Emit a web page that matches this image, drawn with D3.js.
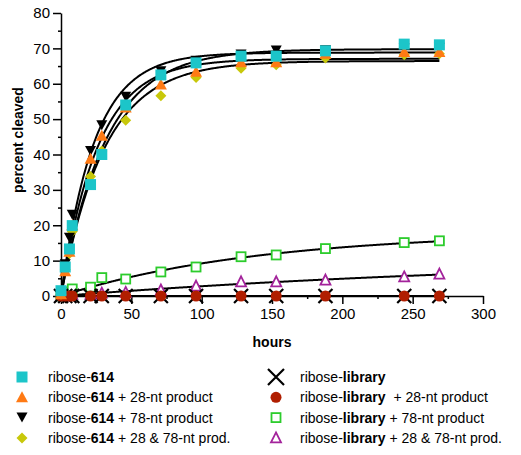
<!DOCTYPE html>
<html>
<head>
<meta charset="utf-8">
<script src="https://cdn.jsdelivr.net/npm/d3@7"></script>
<style>
    body { margin: 0; background: #fff; }
    text { font-family: 'Liberation Sans', Arial, sans-serif; }
</style>
</head>
<body>
<svg id="chart" width="521" height="455"></svg>
<script>
// sampling times (hours)
let hours = [0, 3, 6, 8, 21, 29, 46, 71, 96, 128, 153, 188, 244, 269];

// percent cleaved
let r614 = [1.5, 8.2, 13.3, 19.9, 31.5, 40, 54, 62.5, 65.9, 67.8, 67.8, 69.3, 71.2, 71];
let r614p28 = [0.5, 7, 12.5, 20, 38.8, 45.3, 53.3, 59.8, 63.4, 66.1, 66.1, 68.5, 69, 69];
let r614p78 = [0.5, 9, 16.5, 23, 41, 48.3, 56.3, 63.5, 66.5, 68.3, 69.4, 69.5, 70, 70.2];
let r614p2878 = [0.5, 7.5, 12, 18.2, 33.8, 41, 49.7, 56.6, 61.8, 64.4, 65.4, 67.3, 68.2, 68.5];
let rLib = [0, 0, 0, 0, 0, 0, 0, 0, 0, 0, 0, 0, 0, 0];
let rLibp28 = [0, 0, 0, 0, 0, 0, 0, 0, 0, 0, 0, 0, 0, 0];
let rLibp78 = [0, 0.5, 1.2, 2, 2.5, 5.2, 4.8, 6.8, 8.2, 11.1, 11.6, 13.4, 15.1, 15.6];
let rLibp2878 = [0, 0, 0.3, 0.5, 0.5, 0.8, 1, 1.7, 2.8, 4, 4, 4.5, 5.4, 6.2];

let xTicks = [0, 50, 100, 150, 200, 250, 300];
let yTicks = [0, 10, 20, 30, 40, 50, 60, 70, 80];

// legend entries: [prefix, bold part, suffix]
let labels614 = [
    ['ribose-', '614', ''],
    ['ribose-', '614', ' + 28-nt product'],
    ['ribose-', '614', ' + 78-nt product'],
    ['ribose-', '614', ' + 28 & 78-nt prod.']
];
let labelsLib = [
    ['ribose-', 'library', ''],
    ['ribose-', 'library', '  + 28-nt product'],
    ['ribose-', 'library', ' + 78-nt product'],
    ['ribose-', 'library', ' + 28 & 78-nt prod.']
];

let svg = d3.select('#chart');

let margin = { left: 61, top: 13, right: 38, bottom: 159 };
let width = 521 - margin.left - margin.right;
let height = 455 - margin.top - margin.bottom;

let x = d3.scaleLinear().domain([0, 300]).range([0, width]);
let y = d3.scaleLinear().domain([0, 80]).range([height, 0]);

let g = svg.append('g').attr('transform', 'translate(' + margin.left + ',' + margin.top + ')');

// series, drawn back to front
let series = [
    { values: rLibp2878, shape: 'triOpen', color: '#a3239b' },
    { values: rLibp78, shape: 'squareOpen', color: '#2ccc2c' },
    { values: rLib, shape: 'cross', color: '#000' },
    { values: rLibp28, shape: 'circle', color: '#b01e00' },
    { values: r614p2878, shape: 'diamond', color: '#c8c80a' },
    { values: r614p78, shape: 'triDown', color: '#000' },
    { values: r614p28, shape: 'triUp', color: '#ff7a14' },
    { values: r614, shape: 'square', color: '#1cc5c9' }
];

// one-phase association fit: y = top * (1 - exp(-k t))
function fitCurve(values) {
    let best = { err: Infinity, top: 0, k: 0.01 };
    for (let i = 0; i <= 600; i++) {
        let k = 0.0005 * Math.pow(1.012, i);
        let sfy = 0, sff = 0;
        hours.forEach((t, j) => {
            let f = 1 - Math.exp(-k * t);
            sfy += f * values[j];
            sff += f * f;
        });
        let top = sff > 0 ? sfy / sff : 0;
        let err = 0;
        hours.forEach((t, j) => {
            let d = values[j] - top * (1 - Math.exp(-k * t));
            err += d * d;
        });
        if (err < best.err) best = { err: err, top: top, k: k };
    }
    return best;
}

let line = d3.line().x(d => x(d[0])).y(d => y(d[1]));
let tMax = d3.max(hours);

// axes
let xAxis = g.append('g').attr('transform', 'translate(0,' + height + ')');
xAxis.append('g')
    .call(d3.axisBottom(x).tickValues(d3.range(25, 300, 50)).tickSize(3).tickFormat(''))
    .call(a => a.select('.domain').remove());
xAxis.append('g')
    .call(d3.axisBottom(x).tickValues(xTicks).tickSize(8).tickPadding(4).tickSizeOuter(0))
    .call(a => a.selectAll('text').attr('font-size', 15).attr('fill', '#000').attr('font-family', null));

let yAxis = g.append('g');
yAxis.append('g')
    .call(d3.axisLeft(y).tickValues(d3.range(5, 80, 10)).tickSize(3).tickFormat(''))
    .call(a => a.select('.domain').remove());
yAxis.append('g')
    .call(d3.axisLeft(y).tickValues(yTicks).tickSize(8).tickPadding(3).tickSizeOuter(0))
    .call(a => a.selectAll('text').attr('font-size', 15).attr('fill', '#000').attr('font-family', null));

svg.selectAll('.domain, .tick line').attr('stroke', '#000').attr('stroke-width', 1.5);

// fitted curves
series.forEach(s => {
    let fit = fitCurve(s.values);
    let pts = d3.range(0, tMax + 0.5, 0.5).map(t => [t, fit.top * (1 - Math.exp(-fit.k * t))]);
    g.append('path')
        .datum(pts)
        .attr('fill', 'none')
        .attr('stroke', '#000')
        .attr('stroke-width', 2)
        .attr('d', line);
});

function drawMarker(sel, shape, color) {
    if (shape === 'square') {
        sel.append('rect').attr('x', -5.5).attr('y', -5.5).attr('width', 11).attr('height', 11).attr('fill', color);
    } else if (shape === 'squareOpen') {
        sel.append('rect').attr('x', -4.5).attr('y', -4.5).attr('width', 9).attr('height', 9)
            .attr('fill', '#fff').attr('stroke', color).attr('stroke-width', 1.8);
    } else if (shape === 'triUp') {
        sel.append('path').attr('d', 'M0,-6L6,5L-6,5Z').attr('fill', color);
    } else if (shape === 'triDown') {
        sel.append('path').attr('d', 'M0,5L5.5,-5L-5.5,-5Z').attr('fill', color);
    } else if (shape === 'triOpen') {
        sel.append('path').attr('d', 'M0,-5.5L5,4.5L-5,4.5Z')
            .attr('fill', '#fff').attr('stroke', color).attr('stroke-width', 1.8);
    } else if (shape === 'diamond') {
        sel.append('path').attr('d', 'M0,-5.5L5.5,0L0,5.5L-5.5,0Z').attr('fill', color);
    } else if (shape === 'circle') {
        sel.append('circle').attr('r', 5.5).attr('fill', color);
    } else if (shape === 'cross') {
        sel.append('path').attr('d', 'M-7,-7L7,7M-7,7L7,-7').attr('stroke', color).attr('stroke-width', 2.2);
    }
}

// data points
series.forEach(s => {
    let pts = g.append('g')
        .selectAll('g')
        .data(hours.map((t, i) => [t, s.values[i]]))
        .enter()
        .append('g')
        .attr('transform', d => 'translate(' + x(d[0]) + ',' + y(d[1]) + ')');
    pts.each(function() {
        drawMarker(d3.select(this), s.shape, s.color);
    });
});

// axis titles
svg.append('text')
    .attr('transform', 'translate(23,140) rotate(-90)')
    .attr('text-anchor', 'middle')
    .attr('font-size', 14)
    .attr('font-weight', 'bold')
    .text('percent cleaved');

svg.append('text')
    .attr('x', margin.left + width / 2)
    .attr('y', 347)
    .attr('text-anchor', 'middle')
    .attr('font-size', 14)
    .attr('font-weight', 'bold')
    .text('hours');

// legend
let shapes614 = ['square', 'triUp', 'triDown', 'diamond'];
let colors614 = ['#1cc5c9', '#ff7a14', '#000', '#c8c80a'];
let shapesLib = ['cross', 'circle', 'squareOpen', 'triOpen'];
let colorsLib = ['#000', '#b01e00', '#2ccc2c', '#a3239b'];

function legendColumn(labels, shapes, colors, mx, tx) {
    labels.forEach((lab, i) => {
        let cy = 377 + i * 20.3;
        let m = svg.append('g').attr('transform', 'translate(' + mx + ',' + cy + ')');
        if (shapes[i] === 'cross') {
            m.append('path').attr('d', 'M-8,-8L8,8M-8,8L8,-8').attr('stroke', '#000').attr('stroke-width', 2.2);
        } else {
            drawMarker(m, shapes[i], colors[i]);
        }
        let t = svg.append('text')
            .attr('x', tx)
            .attr('y', cy + 5)
            .attr('font-size', 14)
            .style('white-space', 'pre');
        t.append('tspan').text(lab[0]);
        t.append('tspan').attr('font-weight', 'bold').text(lab[1]);
        t.append('tspan').text(lab[2]);
    });
}

legendColumn(labels614, shapes614, colors614, 22, 48);
legendColumn(labelsLib, shapesLib, colorsLib, 276, 300);
</script>
</body>
</html>
